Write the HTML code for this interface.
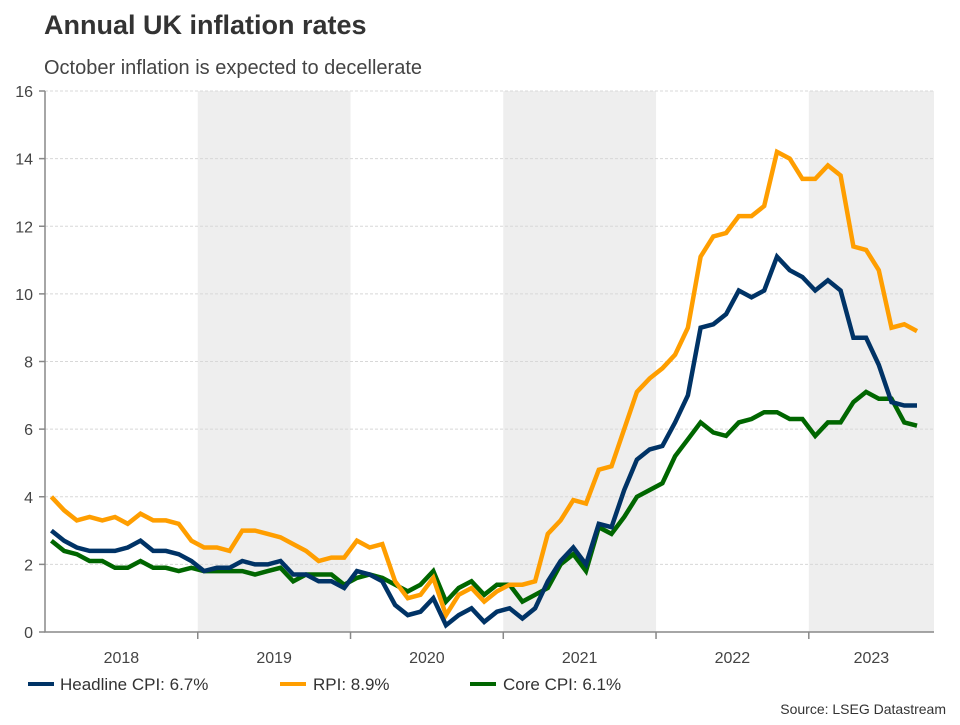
<!DOCTYPE html>
<html><head><meta charset="utf-8"><style>
body{margin:0;background:#fff;font-family:"Liberation Sans",Arial,sans-serif;}
</style></head><body>
<svg width="960" height="720" xmlns="http://www.w3.org/2000/svg">
<text x="44" y="34" font-size="27" font-weight="bold" fill="#333">Annual UK inflation rates</text>
<text x="44" y="74" font-size="20" fill="#444">October inflation is expected to decellerate</text>
<g id="bands"></g><g id="grid"></g><g id="axes"></g><g id="lines"></g>
<g>
<line x1="28" y1="684" x2="54" y2="684" stroke="#003366" stroke-width="4"/>
<text x="60" y="690" font-size="17" fill="#333">Headline CPI: 6.7%</text>
<line x1="280" y1="684" x2="306" y2="684" stroke="#ff9e00" stroke-width="4"/>
<text x="313" y="690" font-size="17" fill="#333">RPI: 8.9%</text>
<line x1="470" y1="684" x2="496" y2="684" stroke="#006600" stroke-width="4"/>
<text x="503" y="690" font-size="17" fill="#333">Core CPI: 6.1%</text>
</g>
<text x="946" y="714" font-size="14" fill="#333" text-anchor="end">Source: LSEG Datastream</text>
</svg>
<script>
const years=["2018","2019","2020","2021","2022","2023"];
const yTicks=[0,2,4,6,8,10,12,14,16];
const cpi=[3.0,2.7,2.5,2.4,2.4,2.4,2.5,2.7,2.4,2.4,2.3,2.1,1.8,1.9,1.9,2.1,2.0,2.0,2.1,1.7,1.7,1.5,1.5,1.3,1.8,1.7,1.5,0.8,0.5,0.6,1.0,0.2,0.5,0.7,0.3,0.6,0.7,0.4,0.7,1.5,2.1,2.5,2.0,3.2,3.1,4.2,5.1,5.4,5.5,6.2,7.0,9.0,9.1,9.4,10.1,9.9,10.1,11.1,10.7,10.5,10.1,10.4,10.1,8.7,8.7,7.9,6.8,6.7,6.7];
const rpi=[4.0,3.6,3.3,3.4,3.3,3.4,3.2,3.5,3.3,3.3,3.2,2.7,2.5,2.5,2.4,3.0,3.0,2.9,2.8,2.6,2.4,2.1,2.2,2.2,2.7,2.5,2.6,1.5,1.0,1.1,1.6,0.5,1.1,1.3,0.9,1.2,1.4,1.4,1.5,2.9,3.3,3.9,3.8,4.8,4.9,6.0,7.1,7.5,7.8,8.2,9.0,11.1,11.7,11.8,12.3,12.3,12.6,14.2,14.0,13.4,13.4,13.8,13.5,11.4,11.3,10.7,9.0,9.1,8.9];
const core=[2.7,2.4,2.3,2.1,2.1,1.9,1.9,2.1,1.9,1.9,1.8,1.9,1.8,1.8,1.8,1.8,1.7,1.8,1.9,1.5,1.7,1.7,1.7,1.4,1.6,1.7,1.6,1.4,1.2,1.4,1.8,0.9,1.3,1.5,1.1,1.4,1.4,0.9,1.1,1.3,2.0,2.3,1.8,3.1,2.9,3.4,4.0,4.2,4.4,5.2,5.7,6.2,5.9,5.8,6.2,6.3,6.5,6.5,6.3,6.3,5.8,6.2,6.2,6.8,7.1,6.9,6.9,6.2,6.1];
const NS="http://www.w3.org/2000/svg";
const X0=45,X1=934,Y0=632,Y1=91,MPX=12.73;
const xm=m=>X0+m*MPX; // m in months from Jan 2018 start
const y=v=>Y0+(v-0)*(Y1-Y0)/16;
function mk(p,t,a){const e=document.createElementNS(NS,t);for(const k in a)e.setAttribute(k,a[k]);document.getElementById(p).appendChild(e);return e;}
years.forEach((yr,k)=>{
 const a=xm(k*12),b=Math.min(xm((k+1)*12),X1);
 if(k%2===1){const r=mk("bands","rect",{x:a,y:Y1,width:b-a,height:Y0-Y1,fill:"#eeeeee"});
 
 }
 if(k>0){const t=mk("axes","line",{x1:a,y1:Y0,x2:a,y2:Y0+7,stroke:"#888","stroke-width":1.5});
 
 }
 const l=mk("axes","text",{x:(a+b)/2,y:663,"font-size":16,fill:"#444","text-anchor":"middle"});l.textContent=yr;
 
 
});
yTicks.forEach(v=>{
 if(v>0){const g=mk("grid","line",{x1:X0,y1:y(v),x2:X1,y2:y(v),stroke:"#d8d8d8","stroke-dasharray":"3,2","stroke-width":1});
 
 }
 const t=mk("axes","line",{x1:X0-6,y1:y(v),x2:X0,y2:y(v),stroke:"#888","stroke-width":1.5});
 
 
 const l=mk("axes","text",{x:33,y:y(v)+6,"font-size":16,fill:"#444","text-anchor":"end"});l.textContent=v;
 
 
});
const ax=mk("axes","path",{d:`M${X0},${Y1}V${Y0}H${X1}`,fill:"none",stroke:"#888","stroke-width":1.5});


[[core,"#006600","core-cpi-line"],[rpi,"#ff9e00","rpi-line"],[cpi,"#003366","headline-cpi-line"]].forEach(([d,c,n])=>{
 const p=mk("lines","path",{d:d.map((v,i)=>(i?"L":"M")+xm(i+0.5).toFixed(1)+","+y(v).toFixed(1)).join(""),fill:"none",stroke:c,"stroke-width":4.5,"stroke-linejoin":"miter"});
 
 
});
</script>
</body></html>
